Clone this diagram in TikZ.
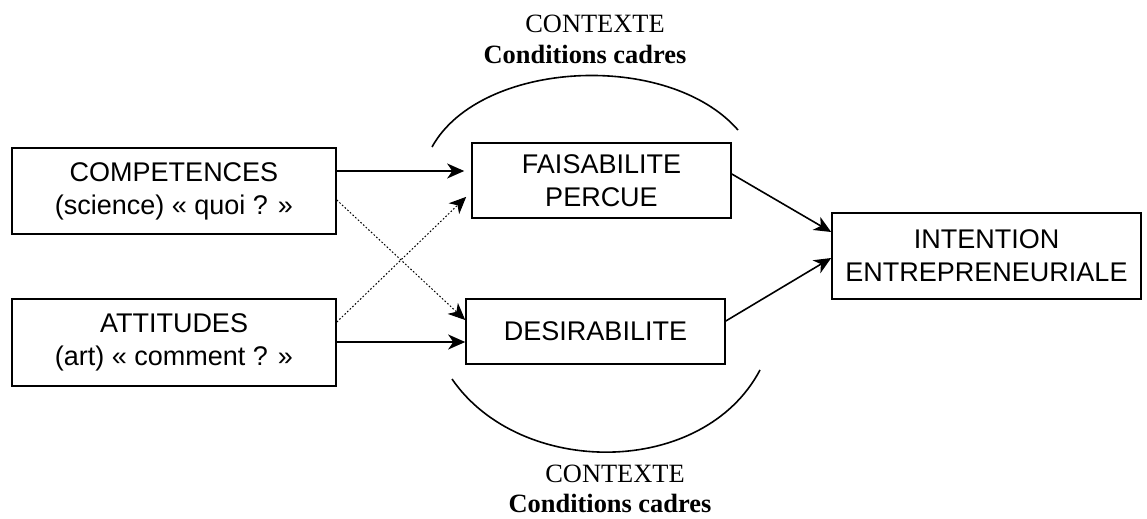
\documentclass[tikz,border=0pt]{standalone}
\usepackage{fontspec}
\setmainfont{Liberation Serif}
\setsansfont{Liberation Sans}
\usetikzlibrary{arrows.meta, positioning}

\begin{document}
\begin{tikzpicture}[x=0.5pt, y=-0.5pt,
        box/.style = {draw, line width=0.8pt, align=center, inner sep=0pt,
                      font=\sffamily\fontsize{13.5}{16.5}\selectfont},
        link/.style = {-{Stealth[length=8.5pt, width=7.5pt, inset=2.5pt]}, line width=0.8pt},
        cross/.style = {link, densely dotted, line width=0.5pt},
        ctx/.style = {inner sep=0pt, font=\fontsize{13.2}{15}\selectfont}]
    \useasboundingbox (0,0) rectangle (1147,519);

    % the boxes
    \node[box, minimum width=162pt, minimum height=43pt] (comp) at (174,191) {COMPETENCES\\(science) « quoi ? »};
    \node[box, minimum width=162pt, minimum height=43.5pt] (att) at (174,342.5) {ATTITUDES\\(art) « comment ? »};
    \node[box, minimum width=129.5pt, minimum height=37.5pt] (faisa) at (601.5,180.5) {FAISABILITE\\PERCUE};
    \node[box, minimum width=129.5pt, minimum height=32.5pt] (desir) at (595.5,331.5) {DESIRABILITE};
    \node[box, minimum width=154.5pt, minimum height=43pt] (intent) at (986.5,256) {INTENTION\\ENTREPRENEURIALE};

    % straight links
    \draw[link, shorten >=3.5pt] (comp.east |- 0,171) -- (faisa.west |- 0,171);
    \draw[link] (att.east |- 0,342) -- (desir.west |- 0,342);
    \draw[link] (faisa.east |- 0,174) -- (intent.west |- 0,232);
    \draw[link] (desir.east |- 0,321) -- (intent.west |- 0,258);

    % crossed links
    \draw[cross] (comp.east |- 0,200) -- (desir.west |- 0,320);
    \draw[cross, shorten >=3.5pt] (att.east |- 0,322) -- (faisa.west |- 0,192);

    % context arcs
    \draw[line width=0.8pt] (432,147) .. controls (480,60) and (668,50) .. (738,130);
    \draw[line width=0.8pt] (452,379) .. controls (520,478) and (703,478) .. (760,370);

    % context labels
    \node[ctx] (ctxtop) at (595,24) {CONTEXTE};
    \node[ctx] (condtop) at (585,54) {\textbf{Conditions cadres}};
    \node[ctx] (ctxbot) at (615,474) {CONTEXTE};
    \node[ctx] (condbot) at (610,503) {\textbf{Conditions cadres}};
\end{tikzpicture}
\end{document}
